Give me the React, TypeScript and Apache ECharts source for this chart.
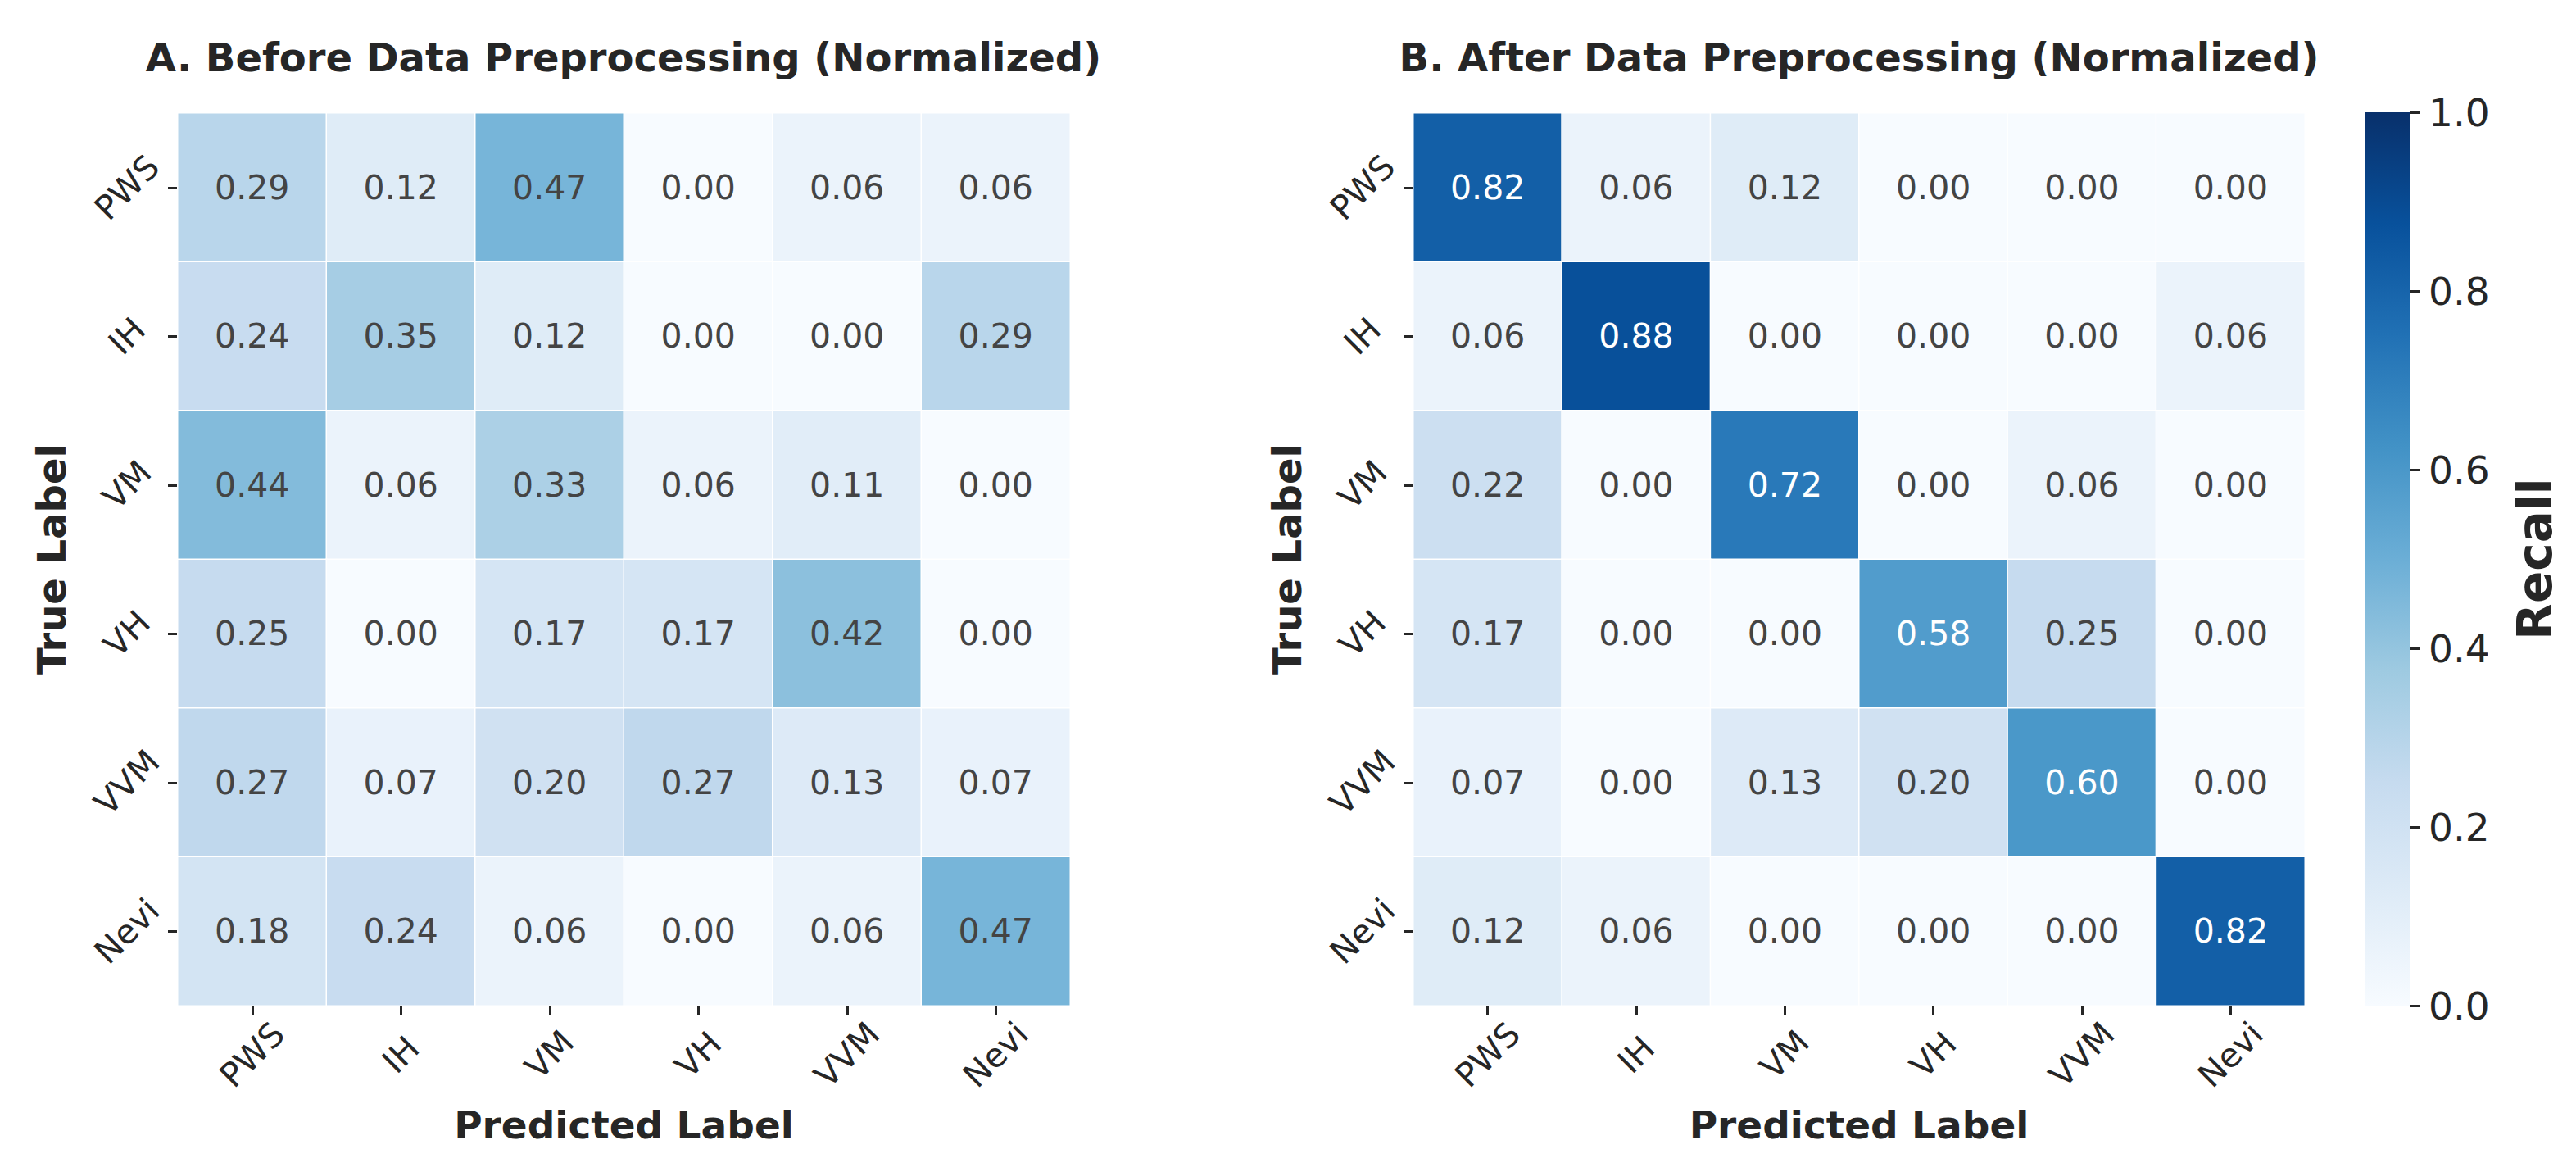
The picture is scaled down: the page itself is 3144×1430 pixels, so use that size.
import React, { useEffect, useRef } from "react";
import * as echarts from "echarts";

const classLabels = ["PWS", "IH", "VM", "VH", "VVM", "Nevi"];

// rows = true label, columns = predicted label
const beforeRows = [
  [0.29, 0.12, 0.47, 0.0, 0.06, 0.06],
  [0.24, 0.35, 0.12, 0.0, 0.0, 0.29],
  [0.44, 0.06, 0.33, 0.06, 0.11, 0.0],
  [0.25, 0.0, 0.17, 0.17, 0.42, 0.0],
  [0.27, 0.07, 0.2, 0.27, 0.13, 0.07],
  [0.18, 0.24, 0.06, 0.0, 0.06, 0.47],
];

const afterRows = [
  [0.82, 0.06, 0.12, 0.0, 0.0, 0.0],
  [0.06, 0.88, 0.0, 0.0, 0.0, 0.06],
  [0.22, 0.0, 0.72, 0.0, 0.06, 0.0],
  [0.17, 0.0, 0.0, 0.58, 0.25, 0.0],
  [0.07, 0.0, 0.13, 0.2, 0.6, 0.0],
  [0.12, 0.06, 0.0, 0.0, 0.0, 0.82],
];

const bluesColors = [
  "#f7fbff",
  "#deebf7",
  "#c6dbef",
  "#9ecae1",
  "#6baed6",
  "#4292c6",
  "#2171b5",
  "#08519c",
  "#08306b",
];

const colorbarMin = 0;
const colorbarMax = 1;
const colorbarStep = 0.2;

const titleA = "A. Before Data Preprocessing (Normalized)";
const titleB = "B. After Data Preprocessing (Normalized)";
const xName = "Predicted Label";
const yName = "True Label";
const cbName = "Recall";

const FONT = "DejaVu Sans";
const DARK = "#262626";

function toCells(rows: number[][]) {
  const out: any[] = [];
  rows.forEach((row, r) =>
    row.forEach((v, c) => {
      out.push({
        value: [c, r, v],
        label: { color: v >= 0.5 ? "#ffffff" : "#444444" },
      });
    })
  );
  return out;
}

function catX(gridIndex: number) {
  return {
    type: "category",
    gridIndex,
    data: classLabels,
    position: "bottom",
    axisLine: { show: false },
    axisTick: {
      show: true,
      alignWithLabel: true,
      length: 12,
      lineStyle: { color: DARK, width: 3 },
    },
    axisLabel: {
      interval: 0,
      rotate: 45,
      align: "center",
      verticalAlign: "middle",
      margin: 60,
      fontSize: 41,
      fontFamily: FONT,
      color: DARK,
    },
    splitLine: { show: false },
    name: xName,
    nameLocation: "middle",
    nameGap: 122,
    nameTextStyle: {
      fontSize: 47,
      fontWeight: "bold",
      fontFamily: FONT,
      color: DARK,
    },
  };
}

function catY(gridIndex: number) {
  return {
    type: "category",
    gridIndex,
    data: classLabels,
    inverse: true,
    axisLine: { show: false },
    axisTick: {
      show: true,
      alignWithLabel: true,
      length: 12,
      lineStyle: { color: DARK, width: 3 },
    },
    axisLabel: {
      interval: 0,
      rotate: 45,
      align: "center",
      verticalAlign: "middle",
      margin: 62,
      fontSize: 41,
      fontFamily: FONT,
      color: DARK,
    },
    splitLine: { show: false },
    name: yName,
    nameLocation: "middle",
    nameRotate: 90,
    nameGap: 130,
    nameTextStyle: {
      fontSize: 48,
      fontWeight: "bold",
      fontFamily: FONT,
      color: DARK,
    },
  };
}

function heatSeries(idx: number, rows: number[][]) {
  return {
    type: "heatmap",
    xAxisIndex: idx,
    yAxisIndex: idx,
    data: toCells(rows),
    itemStyle: { borderColor: "#ffffff", borderWidth: 1.5 },
    label: {
      show: true,
      fontSize: 41,
      fontFamily: FONT,
      formatter: (p: any) => Number(p.value[2]).toFixed(2),
    },
    emphasis: { disabled: true },
  };
}

export default function App() {
  const ref = useRef<HTMLDivElement>(null);

  useEffect(() => {
    if (!ref.current) return;
    document.body.style.margin = "0";
    const chart = echarts.init(ref.current, undefined, { renderer: "svg" });

    const gradStops = bluesColors.map((c, i) => ({
      offset: i / (bluesColors.length - 1),
      color: c,
    }));

    const option: any = {
      animation: false,
      backgroundColor: "#ffffff",
      title: [
        {
          text: titleA,
          left: 761,
          top: 46,
          padding: 0,
          textAlign: "center",
          textStyle: { fontSize: 48, fontWeight: "bold", fontFamily: FONT, color: DARK },
        },
        {
          text: titleB,
          left: 2269,
          top: 46,
          padding: 0,
          textAlign: "center",
          textStyle: { fontSize: 48, fontWeight: "bold", fontFamily: FONT, color: DARK },
        },
      ],
      grid: [
        { left: 217, top: 138, width: 1089, height: 1089 },
        { left: 1725, top: 138, width: 1088, height: 1089 },
        { left: 2886, top: 137, width: 55, height: 1090 },
      ],
      xAxis: [
        catX(0),
        catX(1),
        { type: "category", gridIndex: 2, data: [cbName], show: false },
      ],
      yAxis: [
        catY(0),
        catY(1),
        {
          type: "value",
          gridIndex: 2,
          position: "right",
          min: colorbarMin,
          max: colorbarMax,
          interval: colorbarStep,
          axisLine: { show: false },
          axisTick: { show: true, length: 12, lineStyle: { color: DARK, width: 3 } },
          splitLine: { show: false },
          axisLabel: {
            margin: 23,
            fontSize: 47,
            fontFamily: FONT,
            color: DARK,
            formatter: (v: number) => v.toFixed(1),
          },
          name: cbName,
          nameLocation: "middle",
          nameRotate: 90,
          nameGap: 124,
          nameTextStyle: {
            fontSize: 58,
            fontWeight: "bold",
            fontFamily: FONT,
            color: DARK,
          },
        },
      ],
      visualMap: {
        type: "continuous",
        show: false,
        min: colorbarMin,
        max: colorbarMax,
        seriesIndex: [0, 1],
        dimension: 2,
        inRange: { color: bluesColors },
      },
      series: [
        heatSeries(0, beforeRows),
        heatSeries(1, afterRows),
        {
          type: "bar",
          xAxisIndex: 2,
          yAxisIndex: 2,
          data: [colorbarMax],
          barWidth: "100%",
          silent: true,
          itemStyle: {
            color: new echarts.graphic.LinearGradient(0, 1, 0, 0, gradStops),
          },
        },
      ],
    };

    chart.setOption(option);
    return () => chart.dispose();
  }, []);

  return (
    <div
      ref={ref}
      style={{ position: "absolute", left: 0, top: 0, width: 3144, height: 1430 }}
    />
  );
}
